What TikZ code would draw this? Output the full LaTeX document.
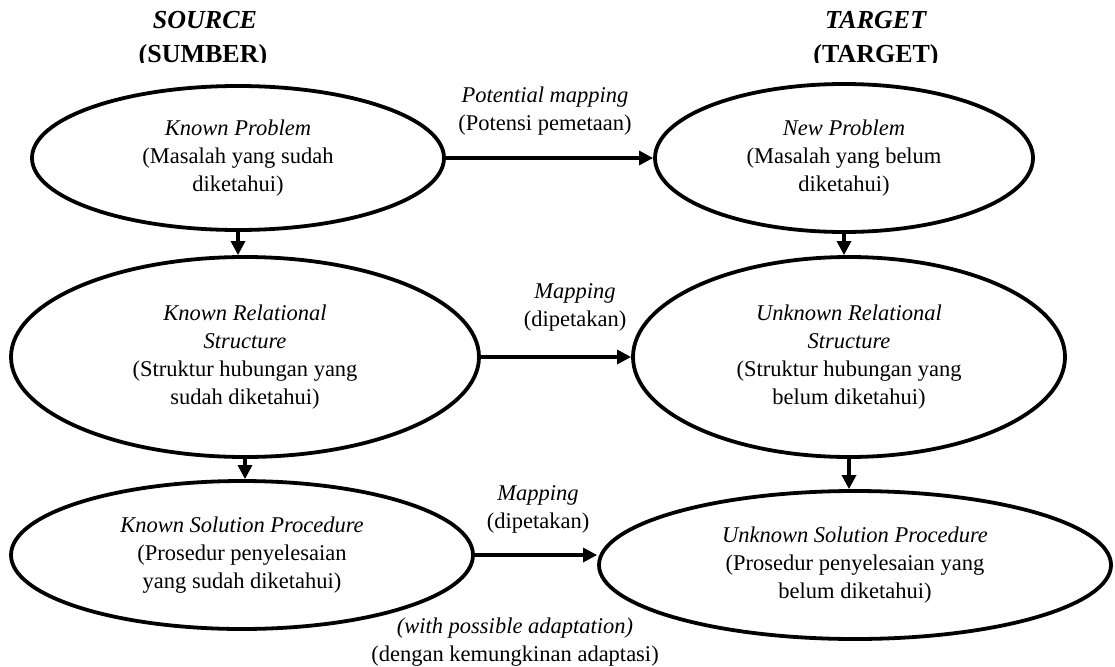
\documentclass[tikz,border=0pt]{standalone}
\usepackage{fontspec}
\setmainfont{Liberation Serif}
\usetikzlibrary{shapes.geometric,arrows.meta}
\begin{document}
\begin{tikzpicture}[x=1pt,y=-1pt,
  every node/.style={font=\fontsize{22.5}{28}\selectfont, align=center},
  oval/.style={ellipse, draw, line width=3.8pt, inner sep=0pt},
  hdr/.style={font=\fontsize{26}{30}\selectfont\bfseries, anchor=base, inner sep=0pt},
  arr/.style={line width=3.2pt, -{Triangle[length=14pt,width=14pt]}},
  lbl/.style={inner sep=0pt}]
\useasboundingbox (0,0) rectangle (1115,666);

% headers (clipped at the bottom as in the original)
\begin{scope}
\clip (0,0) rectangle (1115,63);
\node[hdr] (src) at (205,29) {\textit{SOURCE}};
\node[hdr] (sum) at (203,63) {(SUMBER)};
\node[hdr] (tgt) at (876,29) {\textit{TARGET}};
\node[hdr] (tgt2) at (876,63) {(TARGET)};
\end{scope}

% ellipses
\node[oval, minimum width=412pt, minimum height=144pt] (kp) at (238,158)
  {\textit{Known Problem}\\(Masalah yang sudah\\diketahui)};
\node[oval, minimum width=378pt, minimum height=148pt] (np) at (844,158)
  {\textit{New Problem}\\(Masalah yang belum\\diketahui)};
\node[oval, minimum width=468pt, minimum height=200pt] (kr) at (245,357)
  {\textit{Known Relational}\\\textit{Structure}\\(Struktur hubungan yang\\sudah diketahui)};
\node[oval, minimum width=432pt, minimum height=200pt] (ur) at (849,357)
  {\textit{Unknown Relational}\\\textit{Structure}\\(Struktur hubungan yang\\belum diketahui)};
\node[oval, minimum width=462pt, minimum height=148pt] (ks) at (242,555)
  {\textit{Known Solution Procedure}\\(Prosedur penyelesaian\\yang sudah diketahui)};
\node[oval, minimum width=512pt, minimum height=148pt] (us) at (855,565)
  {\textit{Unknown Solution Procedure}\\(Prosedur penyelesaian yang\\belum diketahui)};

% vertical arrows
\draw[arr] (kp.south) -- (kp.south |- kr.north);
\draw[arr] (np.south) -- (np.south |- ur.north);
\draw[arr] (kr.south) -- (kr.south |- ks.north);
\draw[arr] (ur.south) -- (ur.south |- us.north);

% horizontal arrows
\draw[arr] (kp.east) -- (kp.east -| np.west);
\draw[arr] (kr.east) -- (kr.east -| ur.west);
\draw[arr] (ks.east) -- (ks.east -| us.west);

% labels
\node[lbl] (l1) at (545,111) {\textit{Potential mapping}\\(Potensi pemetaan)};
\node[lbl] (l2) at (575,307) {\textit{Mapping}\\(dipetakan)};
\node[lbl] (l3) at (538,509) {\textit{Mapping}\\(dipetakan)};
\node[lbl] (l4) at (515,642) {\textit{(with possible adaptation)}\\(dengan kemungkinan adaptasi)};
\end{tikzpicture}
\end{document}
